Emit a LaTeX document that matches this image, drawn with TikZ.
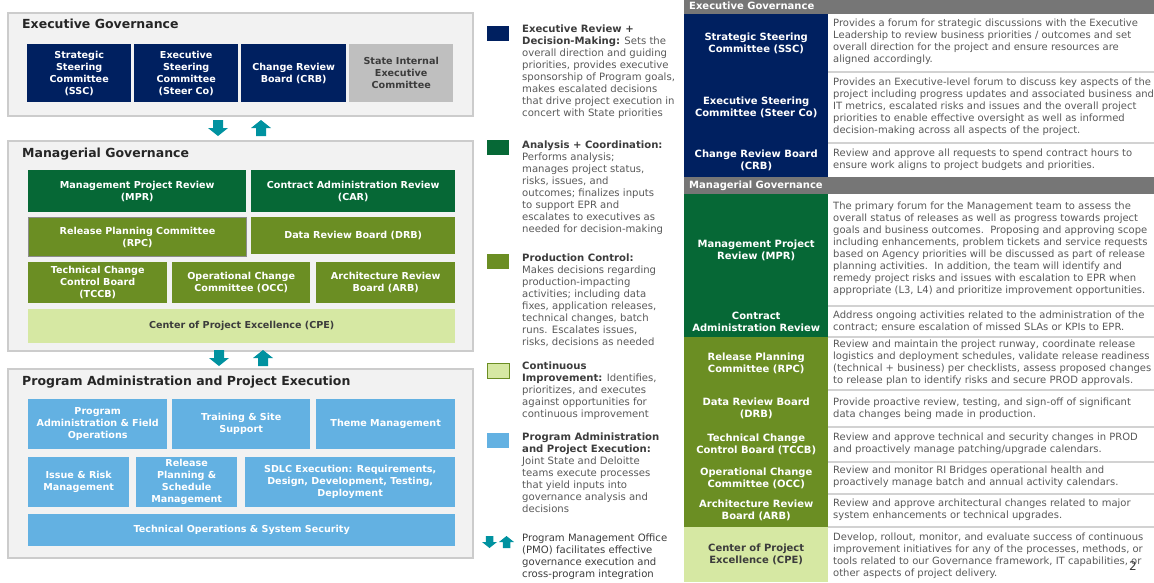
\documentclass[tikz,border=0pt]{standalone}
\usepackage{fontspec}
\setmainfont{DejaVu Sans}
\usetikzlibrary{positioning}

\definecolor{execblue}{RGB}{0,32,96}
\definecolor{analysisgreen}{RGB}{6,104,54}
\definecolor{controlgreen}{RGB}{107,142,35}
\definecolor{improvegreen}{RGB}{214,232,163}
\definecolor{projectblue}{RGB}{99,177,226}
\definecolor{stategray}{RGB}{191,191,191}
\definecolor{panelfill}{RGB}{242,242,242}
\definecolor{panelline}{RGB}{204,204,204}
\definecolor{pmoteal}{RGB}{0,146,160}
\definecolor{bandgray}{RGB}{118,118,118}
\definecolor{rulegray}{RGB}{210,210,210}
\definecolor{textgray}{RGB}{89,89,89}
\definecolor{headgray}{RGB}{60,60,60}

\tikzset{
    pmo down/.pic={\fill[pmoteal] (-5,0) -- (5,0) -- (5,8) -- (10,8) -- (0,16) -- (-10,8) -- (-5,8) -- cycle;},
    pmo up/.pic={\fill[pmoteal] (0,0) -- (10,8) -- (5,8) -- (5,16) -- (-5,16) -- (-5,8) -- (-10,8) -- cycle;}
}

\begin{document}
\begin{tikzpicture}[
    x=1pt, y=-1pt,
    panel/.style={draw=panelline, line width=1.5pt, fill=panelfill, anchor=north west, inner sep=0},
    paneltitle/.style={anchor=west, inner sep=0, text=black!85, font=\fontsize{12.5}{14}\selectfont\bfseries},
    box/.style={anchor=north west, inner sep=0, align=center, text=white, font=\fontsize{9.6}{12}\selectfont\bfseries},
    execbox/.style={box, fill=execblue},
    statebox/.style={box, fill=stategray, text=headgray},
    analysisbox/.style={box, fill=analysisgreen},
    controlbox/.style={box, fill=controlgreen},
    improvebox/.style={box, fill=improvegreen, text=headgray},
    projectbox/.style={box, fill=projectblue},
    legkey/.style={anchor=north west, inner sep=0, minimum width=22, minimum height=15},
    legtext/.style={anchor=north west, inner sep=0, align=left, text=textgray, font=\fontsize{10.1}{12}\selectfont},
    band/.style={anchor=north west, inner sep=0, minimum width=470, fill=bandgray},
    bandtext/.style={anchor=west, inner sep=0, text=white, font=\fontsize{10}{12}\selectfont\bfseries},
    rowname/.style={anchor=north west, inner sep=0, minimum width=144, align=center, text=white, font=\fontsize{10}{12}\selectfont\bfseries},
    rowtext/.style={anchor=west, inner sep=0, align=left, text=textgray, font=\fontsize{10}{12}\selectfont}
]
\useasboundingbox (0,0) rectangle (1154,582);
\clip (0,0) rectangle (1154,582);

% Executive governance panel
\node [panel, minimum width=465, minimum height=103] (execpanel) at (7,12) {};
\node [paneltitle] (exectitle) at (22,24) {Executive Governance};
\node [execbox, minimum width=104, minimum height=58] (ssc) at (27,44) {Strategic\\Steering\\Committee\\(SSC)};
\node [execbox, minimum width=104, minimum height=58] (steerco) at (134,44) {Executive\\Steering\\Committee\\(Steer Co)};
\node [execbox, minimum width=105, minimum height=58] (crb) at (241,44) {Change Review\\Board (CRB)};
\node [statebox, minimum width=104, minimum height=58] (state) at (349,44) {State Internal\\Executive\\Committee};

\pic at (218,120) {pmo down};
\pic at (261,120) {pmo up};

% Managerial governance panel
\node [panel, minimum width=465, minimum height=210] (mgmtpanel) at (7,140) {};
\node [paneltitle] (mgmttitle) at (22,154) {Managerial Governance};
\node [analysisbox, minimum width=218, minimum height=42] (mpr) at (28,170) {Management Project Review\\(MPR)};
\node [analysisbox, minimum width=204, minimum height=42] (car) at (251,170) {Contract Administration Review\\(CAR)};
\node [controlbox, draw=black!45, line width=1pt, minimum width=218, minimum height=39] (rpc) at (28,217) {Release Planning Committee\\(RPC)};
\node [controlbox, minimum width=204, minimum height=37] (drb) at (251,217) {Data Review Board (DRB)};
\node [controlbox, minimum width=139, minimum height=41] (tccb) at (28,262) {Technical Change\\Control Board\\(TCCB)};
\node [controlbox, minimum width=138, minimum height=41] (occ) at (172,262) {Operational Change\\Committee (OCC)};
\node [controlbox, minimum width=139, minimum height=41] (arb) at (316,262) {Architecture Review\\Board (ARB)};
\node [improvebox, minimum width=427, minimum height=34] (cpe) at (28,309) {Center of Project Excellence (CPE)};

\pic at (219,350) {pmo down};
\pic at (263,350) {pmo up};

% Program administration and project execution panel
\node [panel, minimum width=465, minimum height=189] (progpanel) at (7,368) {};
\node [paneltitle] (progtitle) at (22,382) {Program Administration and Project Execution};
\node [projectbox, minimum width=139, minimum height=50] (pafo) at (28,399) {Program\\Administration \& Field\\Operations};
\node [projectbox, minimum width=138, minimum height=50] (training) at (172,399) {Training \& Site\\Support};
\node [projectbox, minimum width=139, minimum height=50] (theme) at (316,399) {Theme Management};
\node [projectbox, minimum width=101, minimum height=50] (issue) at (28,457) {Issue \& Risk\\Management};
\node [projectbox, minimum width=101, minimum height=50] (release) at (136,457) {Release\\Planning \&\\Schedule\\Management};
\node [projectbox, minimum width=210, minimum height=50] (sdlc) at (245,457) {SDLC Execution: Requirements,\\Design, Development, Testing,\\Deployment};
\node [projectbox, minimum width=427, minimum height=32] (techops) at (28,514) {Technical Operations \& System Security};

% Legend
\node [legkey, fill=execblue] (keyexec) at (487,26) {};
\node [legtext] (legexec) at (522,25) {\textbf{\color{headgray}Executive Review +}\\\textbf{\color{headgray}Decision-Making:} Sets the\\overall direction and guiding\\priorities, provides executive\\sponsorship of Program goals,\\makes escalated decisions\\that drive project execution in\\concert with State priorities};
\node [legkey, fill=analysisgreen] (keyanalysis) at (487,140) {};
\node [legtext] (leganalysis) at (522,141) {\textbf{\color{headgray}Analysis + Coordination:}\\Performs analysis;\\manages project status,\\risks, issues, and\\outcomes; finalizes inputs\\to support EPR and\\escalates to executives as\\needed for decision-making};
\node [legkey, fill=controlgreen] (keycontrol) at (487,254) {};
\node [legtext] (legcontrol) at (522,254) {\textbf{\color{headgray}Production Control:}\\Makes decisions regarding\\production-impacting\\activities; including data\\fixes, application releases,\\technical changes, batch\\runs. Escalates issues,\\risks, decisions as needed};
\node [legkey, fill=improvegreen, draw=controlgreen, line width=1pt] (keyimprove) at (487,363) {};
\node [legtext] (legimprove) at (522,362) {\textbf{\color{headgray}Continuous}\\\textbf{\color{headgray}Improvement:} Identifies,\\prioritizes, and executes\\against opportunities for\\continuous improvement};
\node [legkey, fill=projectblue] (keyproject) at (487,433) {};
\node [legtext] (legproject) at (522,433) {\textbf{\color{headgray}Program Administration}\\\textbf{\color{headgray}and Project Execution:}\\Joint State and Deloitte\\teams execute processes\\that yield inputs into\\governance analysis and\\decisions};
\pic [scale=0.75] at (489.5,536) {pmo down};
\pic [scale=0.75] at (506.5,536) {pmo up};
\node [legtext, text=headgray] (legpmo) at (522,534) {Program Management Office\\(PMO) facilitates effective\\governance execution and\\cross-program integration};

% Table: executive governance rows
\node [band, minimum height=14] (bandexec) at (684,0) {};
\node [bandtext] at (689,6) {Executive Governance};
\node [rowname, fill=execblue, minimum height=58] (tssc) at (684,14) {Strategic Steering\\Committee (SSC)};
\node [rowtext] (dssc) at (833,42) {Provides a forum for strategic discussions with the Executive\\Leadership to review business priorities / outcomes and set\\overall direction for the project and ensure resources are\\aligned accordingly.};
\node [rowname, fill=execblue, minimum height=71] (tsteerco) at (684,72) {Executive Steering\\Committee (Steer Co)};
\node [rowtext] (dsteerco) at (833,107) {Provides an Executive-level forum to discuss key aspects of the\\project including progress updates and associated business and\\IT metrics, escalated risks and issues and the overall project\\priorities to enable effective oversight as well as informed\\decision-making across all aspects of the project.};
\node [rowname, fill=execblue, minimum height=34] (tcrb) at (684,143) {Change Review Board\\(CRB)};
\node [rowtext] (dcrb) at (833,160) {Review and approve all requests to spend contract hours to\\ensure work aligns to project budgets and priorities.};

% Table: managerial governance rows
\node [band, minimum height=17] (bandmgmt) at (684,177) {};
\node [bandtext] at (689,186) {Managerial Governance};
\node [rowname, fill=analysisgreen, minimum height=112] (tmpr) at (684,194) {Management Project\\Review (MPR)};
\node [rowtext] (dmpr) at (833,249) {The primary forum for the Management team to assess the\\overall status of releases as well as progress towards project\\goals and business outcomes.\ \ Proposing and approving scope\\including enhancements, problem tickets and service requests\\based on Agency priorities will be discussed as part of release\\planning activities.\ \ In addition, the team will identify and\\remedy project risks and issues with escalation to EPR when\\appropriate (L3, L4) and prioritize improvement opportunities.};
\node [rowname, fill=analysisgreen, minimum height=31] (tcar) at (684,306) {Contract\\Administration Review};
\node [rowtext] (dcar) at (833,321) {Address ongoing activities related to the administration of the\\contract; ensure escalation of missed SLAs or KPIs to EPR.};
\node [rowname, fill=controlgreen, minimum height=53] (trpc) at (684,337) {Release Planning\\Committee (RPC)};
\node [rowtext] (drpc) at (833,363) {Review and maintain the project runway, coordinate release\\logistics and deployment schedules, validate release readiness\\(technical + business) per checklists, assess proposed changes\\to release plan to identify risks and secure PROD approvals.};
\node [rowname, fill=controlgreen, minimum height=37] (tdrb) at (684,390) {Data Review Board\\(DRB)};
\node [rowtext] (ddrb) at (833,409) {Provide proactive review, testing, and sign-off of significant\\data changes being made in production.};
\node [rowname, fill=controlgreen, minimum height=35] (ttccb) at (684,427) {Technical Change\\Control Board (TCCB)};
\node [rowtext] (dtccb) at (833,444) {Review and approve technical and security changes in PROD\\and proactively manage patching/upgrade calendars.};
\node [rowname, fill=controlgreen, minimum height=32] (tocc) at (684,462) {Operational Change\\Committee (OCC)};
\node [rowtext] (docc) at (833,477) {Review and monitor RI Bridges operational health and\\proactively manage batch and annual activity calendars.};
\node [rowname, fill=controlgreen, minimum height=33] (tarb) at (684,494) {Architecture Review\\Board (ARB)};
\node [rowtext] (darb) at (833,510) {Review and approve architectural changes related to major\\system enhancements or technical upgrades.};
\node [rowname, fill=improvegreen, text=headgray, minimum height=55] (tcpe) at (684,527) {Center of Project\\Excellence (CPE)};
\node [rowtext] (dcpe) at (833,556) {Develop, rollout, monitor, and evaluate success of continuous\\improvement initiatives for any of the processes, methods, or\\tools related to our Governance framework, IT capabilities, or\\other aspects of project delivery.};

% Row rules
\foreach \y in {72,143,306,337,390,427,462,494,527}
    \draw [rulegray, line width=1.5pt] (828,\y) -- (1154,\y);

\node [inner sep=0, text=headgray, font=\fontsize{12}{12}\selectfont] (pagenum) at (1133,566) {2};

\end{tikzpicture}
\end{document}
